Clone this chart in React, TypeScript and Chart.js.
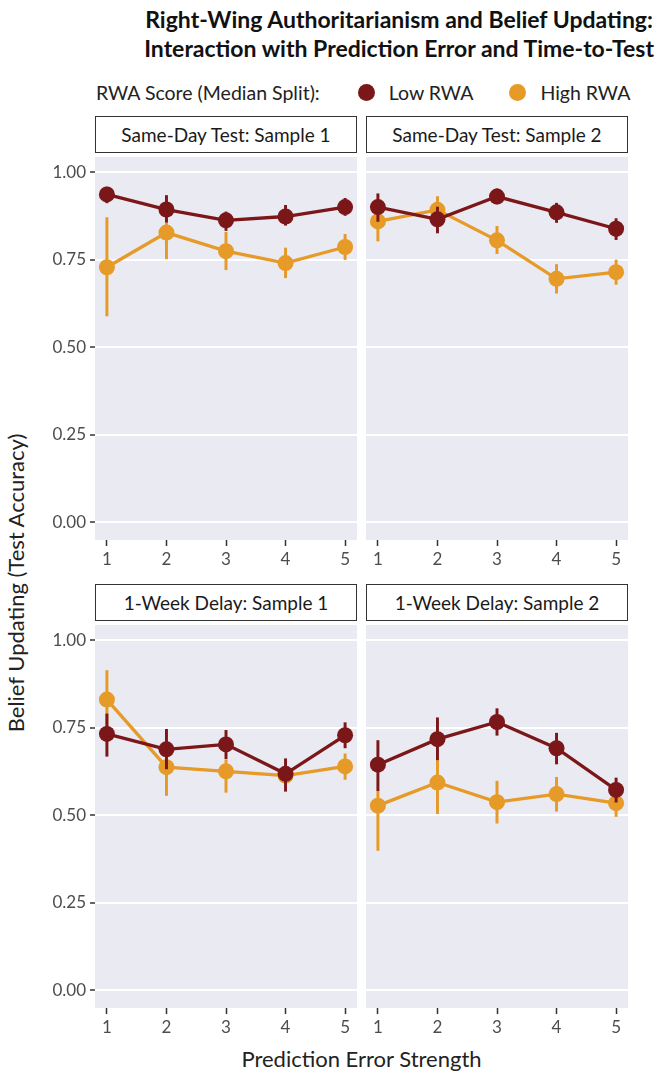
import React, { useEffect, useRef } from "react";
import { Chart, registerables } from "chart.js";
Chart.register(...registerables);

// ---------- data ----------
const xValues = [1, 2, 3, 4, 5];
const yTickValues = [0, 0.25, 0.5, 0.75, 1.0];
const seriesNames = ["Low RWA", "High RWA"];
const panelTitles = [
  "Same-Day Test: Sample 1",
  "Same-Day Test: Sample 2",
  "1-Week Delay: Sample 1",
  "1-Week Delay: Sample 2",
];

// Same-Day Test: Sample 1
const sd1LowMean = [0.937, 0.894, 0.863, 0.874, 0.901];
const sd1LowLo = [0.913, 0.858, 0.834, 0.849, 0.877];
const sd1LowHi = [0.958, 0.934, 0.887, 0.906, 0.926];
const sd1HighMean = [0.729, 0.828, 0.775, 0.741, 0.787];
const sd1HighLo = [0.59, 0.753, 0.722, 0.699, 0.751];
const sd1HighHi = [0.871, 0.863, 0.829, 0.784, 0.823];

// Same-Day Test: Sample 2
const sd2LowMean = [0.901, 0.866, 0.931, 0.886, 0.839];
const sd2LowLo = [0.86, 0.827, 0.91, 0.857, 0.808];
const sd2LowHi = [0.939, 0.901, 0.953, 0.912, 0.868];
const sd2HighMean = [0.86, 0.893, 0.806, 0.696, 0.715];
const sd2HighLo = [0.804, 0.858, 0.768, 0.655, 0.68];
const sd2HighHi = [0.901, 0.931, 0.846, 0.737, 0.75];

// 1-Week Delay: Sample 1
const wk1LowMean = [0.733, 0.689, 0.703, 0.619, 0.729];
const wk1LowLo = [0.669, 0.633, 0.662, 0.569, 0.693];
const wk1LowHi = [0.79, 0.746, 0.743, 0.662, 0.765];
const wk1HighMean = [0.831, 0.638, 0.626, 0.614, 0.64];
const wk1HighLo = [0.748, 0.557, 0.566, 0.595, 0.603];
const wk1HighHi = [0.914, 0.693, 0.659, 0.638, 0.676];

// 1-Week Delay: Sample 2
const wk2LowMean = [0.645, 0.718, 0.767, 0.692, 0.573];
const wk2LowLo = [0.571, 0.659, 0.729, 0.647, 0.538];
const wk2LowHi = [0.714, 0.779, 0.805, 0.735, 0.607];
const wk2HighMean = [0.528, 0.594, 0.538, 0.561, 0.535];
const wk2HighLo = [0.4, 0.505, 0.478, 0.512, 0.497];
const wk2HighHi = [0.571, 0.659, 0.598, 0.609, 0.564];

const panelData = [
  { low: [sd1LowMean, sd1LowLo, sd1LowHi], high: [sd1HighMean, sd1HighLo, sd1HighHi] },
  { low: [sd2LowMean, sd2LowLo, sd2LowHi], high: [sd2HighMean, sd2HighLo, sd2HighHi] },
  { low: [wk1LowMean, wk1LowLo, wk1LowHi], high: [wk1HighMean, wk1HighLo, wk1HighHi] },
  { low: [wk2LowMean, wk2LowLo, wk2LowHi], high: [wk2HighMean, wk2HighLo, wk2HighHi] },
];

// ---------- style ----------
const LOW_COLOR = "#7B1719";
const HIGH_COLOR = "#E69A28";
const PANEL_BG = "#EAEAF2";
const TICK_COLOR = "#4D4D4D";
const FONT = "Lato, 'Open Sans', sans-serif";

const bgPlugin = {
  id: "panelBg",
  beforeDraw(chart: any) {
    const { ctx, chartArea } = chart;
    ctx.save();
    ctx.fillStyle = PANEL_BG;
    ctx.fillRect(chartArea.left, chartArea.top, chartArea.right - chartArea.left, chartArea.bottom - chartArea.top);
    ctx.restore();
  },
};

function Panel({ idx, showY, left, top, width, height }: any) {
  const ref = useRef<HTMLCanvasElement | null>(null);
  useEffect(() => {
    if (!ref.current) return;
    const d = panelData[idx];
    const mk = (arr: number[][], color: string, name: string, baseOrder: number) => [
      {
        type: "bar",
        label: name + " CI",
        data: xValues.map((x, i) => ({ x, y: [arr[1][i], arr[2][i]] })),
        backgroundColor: color,
        borderWidth: 0,
        barThickness: 2.3,
        grouped: false,
        order: baseOrder,
      },
      {
        type: "line",
        label: name,
        data: xValues.map((x, i) => ({ x, y: arr[0][i] })),
        borderColor: color,
        backgroundColor: color,
        borderWidth: 3.3,
        pointRadius: 8,
        pointBorderWidth: 0,
        pointBackgroundColor: color,
        tension: 0,
        order: baseOrder + 1,
      },
    ];
    const chart = new Chart(ref.current, {
      type: "line",
      data: {
        datasets: [...mk(d.low, LOW_COLOR, seriesNames[0], 0), ...mk(d.high, HIGH_COLOR, seriesNames[1], 2)] as any,
      },
      options: {
        animation: false,
        responsive: false,
        maintainAspectRatio: false,
        layout: { padding: 0, autoPadding: false },
        plugins: { legend: { display: false }, tooltip: { enabled: false } },
        scales: {
          x: {
            type: "linear",
            min: 0.8,
            max: 5.2,
            offset: false,
            afterBuildTicks: (s: any) => {
              s.ticks = xValues.map((v) => ({ value: v }));
            },
            afterFit: (s: any) => {
              s.height = 34;
              s.paddingLeft = 0;
              s.paddingRight = 0;
              s.paddingTop = 0;
              s.paddingBottom = 0;
            },
            ticks: {
              color: TICK_COLOR,
              font: { family: FONT, size: 17 },
              padding: 3,
              maxRotation: 0,
              callback: (v: any) => String(v),
            },
            grid: {
              offset: false,
              drawOnChartArea: false,
              drawTicks: true,
              tickLength: 6,
              tickColor: "#333333",
              tickWidth: 1.5,
            },
            border: { display: false },
          },
          y: {
            type: "linear",
            min: -0.05,
            max: 1.044,
            afterBuildTicks: (s: any) => {
              s.ticks = yTickValues.map((v) => ({ value: v }));
            },
            afterFit: (s: any) => {
              s.width = showY ? 55 : 0;
              s.paddingLeft = 0;
              s.paddingRight = 0;
              s.paddingTop = 0;
              s.paddingBottom = 0;
            },
            ticks: {
              display: showY,
              color: TICK_COLOR,
              font: { family: FONT, size: 17 },
              padding: 4,
              callback: (v: any) => Number(v).toFixed(2),
            },
            grid: {
              color: "#FFFFFF",
              lineWidth: 2,
              drawTicks: showY,
              tickLength: 5,
              tickColor: "#333333",
              tickWidth: 1.5,
            },
            border: { display: false },
          },
        },
      } as any,
      plugins: [bgPlugin],
    });
    return () => chart.destroy();
  }, [idx, showY]);
  return (
    <canvas
      ref={ref}
      width={width}
      height={height}
      style={{ position: "absolute", left, top, width, height }}
    />
  );
}

function Strip({ text, left, top, width }: any) {
  return (
    <div
      style={{
        position: "absolute",
        left,
        top,
        width,
        height: 37,
        boxSizing: "border-box",
        border: "1.5px solid #333",
        background: "#fff",
        display: "flex",
        alignItems: "center",
        justifyContent: "center",
        fontFamily: FONT,
        fontSize: 19,
        color: "#1a1a1a",
      }}
    >
      {text}
    </div>
  );
}

export default function App() {
  const panelH = 383;
  const axisH = 34;
  const leftPanelX = 95;
  const rightPanelX = 366;
  const pw = 262;
  const tops = [157, 625];
  const stripTops = [116, 584];
  return (
    <div style={{ position: "absolute", left: 0, top: 0, width: 657, height: 1081, background: "#fff", overflow: "hidden", fontFamily: FONT }}>
      <div
        style={{
          position: "absolute",
          right: 3,
          top: 5,
          textAlign: "center",
          fontWeight: 700,
          fontSize: 23,
          lineHeight: "29px",
          color: "#111",
          whiteSpace: "nowrap",
        }}
      >
        Right-Wing Authoritarianism and Belief Updating:
        <br />
        Interaction with Prediction Error and Time-to-Test
      </div>
      <div style={{ position: "absolute", left: 96, top: 80, fontSize: 19.5, color: "#222", whiteSpace: "nowrap", display: "flex", alignItems: "center", height: 24 }}>
        <span>RWA Score (Median Split):</span>
        <span style={{ display: "inline-block", width: 17, height: 17, borderRadius: "50%", background: LOW_COLOR, marginLeft: 38, marginRight: 14 }} />
        <span>{seriesNames[0]}</span>
        <span style={{ display: "inline-block", width: 17, height: 17, borderRadius: "50%", background: HIGH_COLOR, marginLeft: 36, marginRight: 14 }} />
        <span>{seriesNames[1]}</span>
      </div>

      {[0, 1].map((row) => (
        <React.Fragment key={row}>
          <Strip text={panelTitles[row * 2]} left={leftPanelX} top={stripTops[row]} width={pw} />
          <Strip text={panelTitles[row * 2 + 1]} left={rightPanelX} top={stripTops[row]} width={pw} />
          <Panel idx={row * 2} showY={true} left={leftPanelX - 55} top={tops[row]} width={pw + 55} height={panelH + axisH} />
          <Panel idx={row * 2 + 1} showY={false} left={rightPanelX} top={tops[row]} width={pw} height={panelH + axisH} />
        </React.Fragment>
      ))}

      <div style={{ position: "absolute", left: 95, width: 533, top: 1045, textAlign: "center", fontSize: 22, color: "#222" }}>
        Prediction Error Strength
      </div>
      <div
        style={{
          position: "absolute",
          left: 15,
          top: 583,
          transform: "translate(-50%, -50%) rotate(-90deg)",
          fontSize: 22,
          color: "#222",
          whiteSpace: "nowrap",
        }}
      >
        Belief Updating (Test Accuracy)
      </div>
    </div>
  );
}
